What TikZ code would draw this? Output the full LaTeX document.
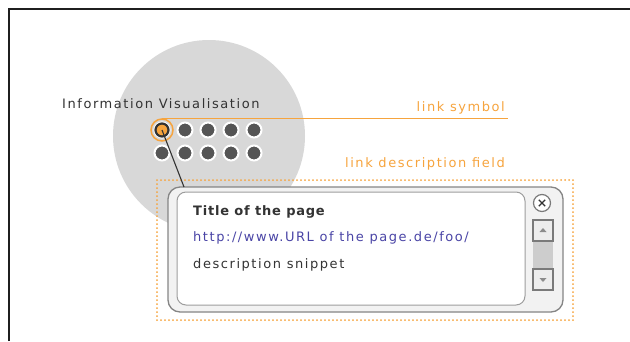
\documentclass[tikz,border=0pt]{standalone}
\usepackage{fontspec}
\usetikzlibrary{calc}
\setmainfont{DejaVu Sans}[LetterSpace=12]
\begin{document}
\begin{tikzpicture}[x=1pt,y=-1pt,
  lbl/.style={inner sep=0pt,anchor=base west,font=\fontsize{13}{15}\selectfont},
  orangelbl/.style={lbl,anchor=base east,text=linkorange},
  dotnode/.style={circle,fill=dotgray,draw=white,line width=2pt,minimum size=15pt,inner sep=0pt},
  scrollbtn/.style={draw=btnedge,fill=btnfill,line width=1.2pt,minimum width=20pt,minimum height=21pt,inner sep=0pt}]
\definecolor{linkorange}{HTML}{F6A43E}
\definecolor{dotgray}{HTML}{555555}
\definecolor{bubble}{HTML}{D8D8D8}
\definecolor{urlblue}{HTML}{4A45A6}
\definecolor{txtdark}{HTML}{333333}
\definecolor{panelfill}{HTML}{F2F2F2}
\definecolor{paneledge}{HTML}{858585}
\definecolor{btnedge}{HTML}{7A7A7A}
\definecolor{btnfill}{HTML}{EDEDED}
\useasboundingbox (0,0) rectangle (630,341);
% frame: top and left rules
\draw[line width=2pt,color=black!88] (9,341) -- (9,9) -- (630,9);
% grey background disc
\fill[bubble] (209,136) circle (96);
% heading
\node[lbl,text=txtdark] (head) at (62,108) {Information Visualisation};
% link symbols
\foreach \i in {1,...,5}{
  \node[dotnode] (a\i) at ({162+23*(\i-1)},130) {};
  \node[dotnode] (b\i) at ({162+23*(\i-1)},153) {};
}
\node[circle,fill=linkorange,draw=txtdark,line width=2.2pt,minimum size=13pt,inner sep=0pt] (sel) at (a1) {};
\node[circle,draw=linkorange,line width=1.5pt,minimum size=22pt,inner sep=0pt] (ring) at (a1) {};
% link description field
\draw[linkorange,line width=2pt,line cap=round,dash pattern=on 0pt off 4pt] (157,180) rectangle (573,320);
% popup panel
\node[draw=paneledge,fill=panelfill,line width=1.3pt,rounded corners=12pt,minimum width=395pt,minimum height=125pt,inner sep=0pt] (panel) at (365.5,249.5) {};
\node[draw=paneledge!80,fill=white,line width=1pt,rounded corners=9pt,minimum width=348pt,minimum height=113pt,inner sep=0pt] (page) at (351,248.5) {};
\node[lbl,text=txtdark,font=\fontsize{13}{15}\selectfont\bfseries\addfontfeatures{LetterSpace=6}] (title) at (193,215) {Title of the page};
\node[lbl,text=urlblue] (url) at (193,241) {http://www.URL of the page.de/foo/};
\node[lbl,text=txtdark] (desc) at (193,268) {description snippet};
% close button
\node[circle,draw=btnedge,fill=white,line width=1.2pt,minimum size=17pt,inner sep=0pt] (close) at (542,203) {};
\draw[txtdark,line width=1.3pt] ($(close)+(-3.2,-3.2)$) -- ($(close)+(3.2,3.2)$)
  ($(close)+(-3.2,3.2)$) -- ($(close)+(3.2,-3.2)$);
% scroll bar
\fill[bubble!95!black] (533,241) rectangle (553,269);
\node[scrollbtn] (up) at (543,230.5) {};
\node[scrollbtn] (down) at (543,279.5) {};
\fill[black!45] ($(up.center)+(-3.5,1.5)$) -- ++(7,0) -- ++(-3.5,-4) -- cycle;
\fill[black!45] ($(down.center)+(-3.5,-1.5)$) -- ++(7,0) -- ++(-3.5,4) -- cycle;
% captions and their connectors
\coordinate (symend) at (508,118);
\draw[linkorange,line width=1.5pt] (ring.north) -- (ring.north -| symend);
\node[orangelbl] (symlbl) at (505,111) {link symbol};
\node[orangelbl] (fieldlbl) at (505,167) {link description field};
\coordinate (hook) at (184,187);
\draw[txtdark,line width=1.1pt] (sel.center) -- (hook);
\end{tikzpicture}
\end{document}
